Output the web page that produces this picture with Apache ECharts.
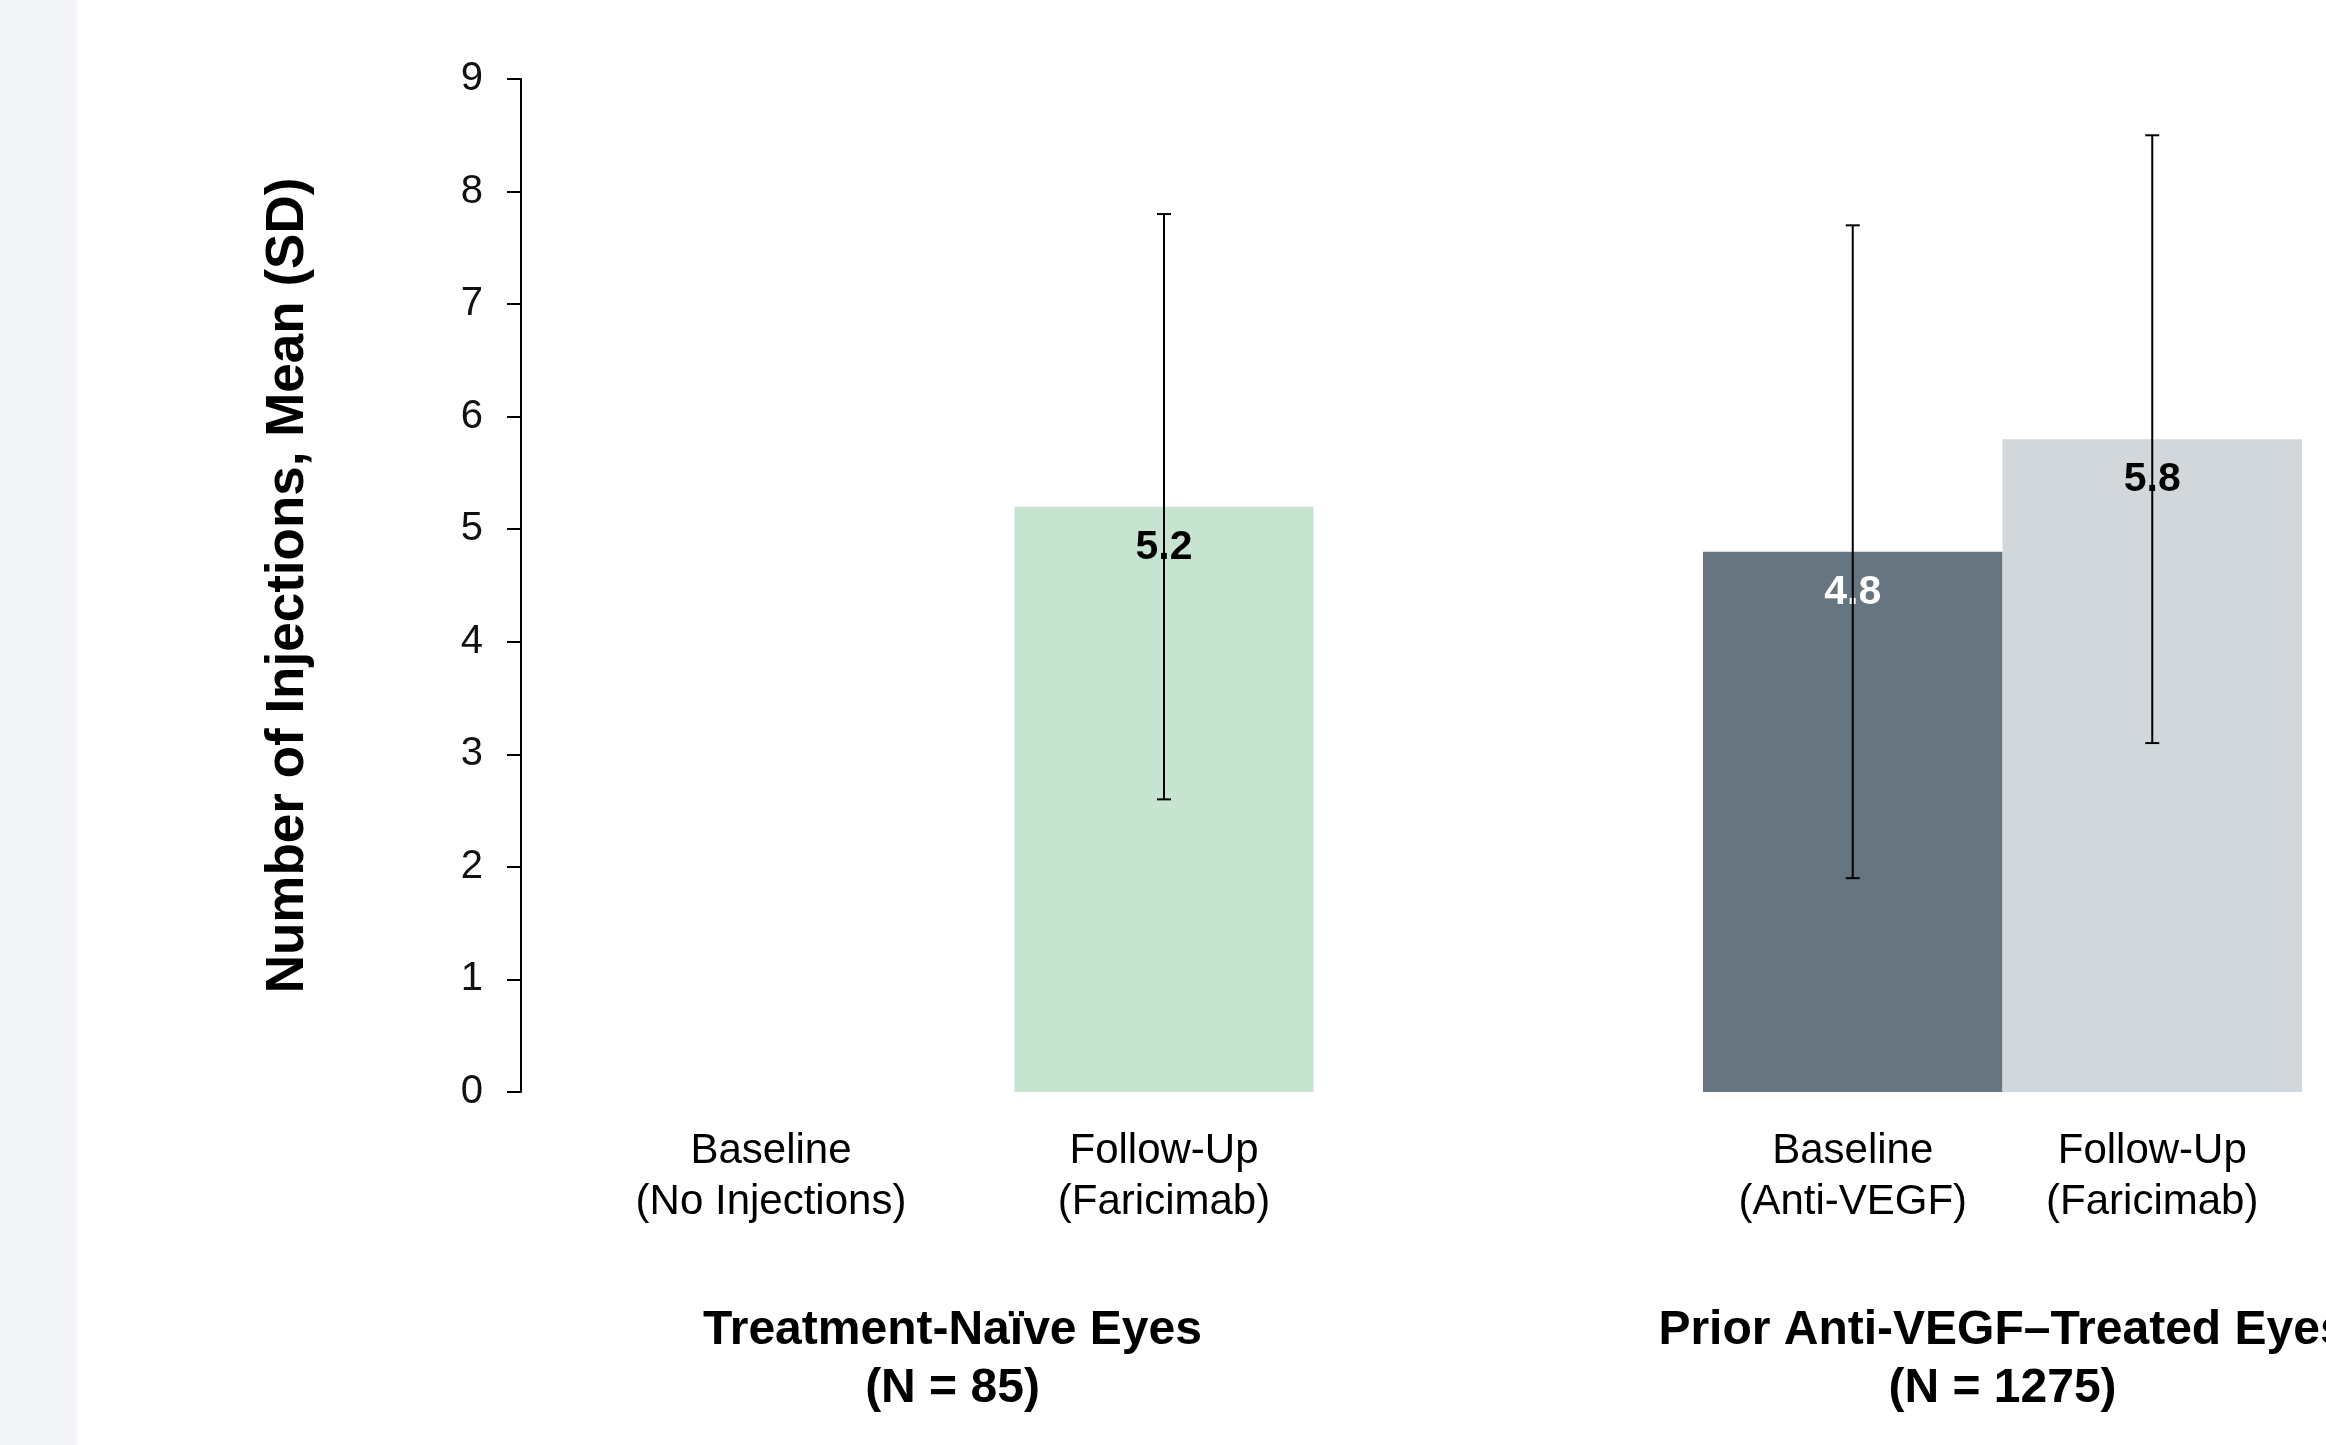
<!DOCTYPE html>
<html>
<head>
<meta charset="utf-8">
<script src="https://cdn.jsdelivr.net/npm/echarts@6/dist/echarts.min.js"></script>
<style>
    html, body { margin: 0; padding: 0; }
    body { background: linear-gradient(to right, #f3f5f9 77px, #ffffff 77px); }
    #chart { width: 2326px; height: 1445px; }
</style>
</head>
<body>
<div id="chart"></div>
<script>
// #region Data
const groupNames = ["Treatment-Naïve Eyes\n(N = 85)", "Prior Anti-VEGF–Treated Eyes\n(N = 1275)"];

const naiveCategories = ["Baseline\n(No Injections)", "Follow-Up\n(Faricimab)"];
const naiveMeans = [null, 5.2];
const naiveSD = [null, 2.6];

const priorCategories = ["Baseline\n(Anti-VEGF)", "Follow-Up\n(Faricimab)"];
const priorMeans = [4.8, 5.8];
const priorSD = [2.9, 2.7];

const yMin = 0;
const yMax = 9;
const yStep = 1;
const yTitle = "Number of Injections, Mean (SD)";
// #endregion

// #region Style
const FONT = "'Liberation Sans', Arial, Helvetica, sans-serif";
const naiveColors = ["#c6e4cf", "#c6e4cf"];
const naiveLabelColors = ["#000000", "#000000"];
const priorColors = ["#66757f", "#d2d7db"];
const priorLabelColors = ["#ffffff", "#000000"];

const GRID_TOP = 79;
const GRID_BOTTOM = 353;
// #endregion

// #region Helper
const barData = (means, colors, labelColors) => means.map((v, i) => ({
    value: v == null ? "-" : v,
    itemStyle: { color: colors[i] },
    label: { color: labelColors[i] }
}));

const errData = (means, sds) => means
    .map((v, i) => v == null ? null : [i, v - sds[i], v + sds[i]])
    .filter(d => d);

const renderErr = (params, api) => {
    const x = api.value(0);
    const lo = api.coord([x, api.value(1)]);
    const hi = api.coord([x, api.value(2)]);
    const cap = 7;
    const style = { stroke: "#000", lineWidth: 2 };
    return {
        type: "group",
        children: [
            { type: "line", shape: { x1: lo[0], y1: lo[1], x2: hi[0], y2: hi[1] }, style },
            { type: "line", shape: { x1: hi[0] - cap, y1: hi[1], x2: hi[0] + cap, y2: hi[1] }, style },
            { type: "line", shape: { x1: lo[0] - cap, y1: lo[1], x2: lo[0] + cap, y2: lo[1] }, style }
        ]
    };
};

const xAxisBase = (cats, name, pad) => ({
    type: "category",
    data: cats,
    axisLine: { show: false },
    axisTick: { show: false },
    axisLabel: {
        interval: 0, margin: 34,
        fontFamily: FONT, fontSize: 42, lineHeight: 51, color: "#000"
    },
    name: name,
    nameLocation: "middle",
    nameGap: 210,
    nameTextStyle: {
        fontFamily: FONT, fontSize: 48, fontWeight: "bold",
        lineHeight: 58, color: "#000", padding: pad
    }
});

const barLabel = {
    show: true,
    position: "insideTop",
    distance: 20,
    fontFamily: FONT,
    fontSize: 41,
    fontWeight: "bold",
    formatter: p => p.value.toFixed(1)
};
// #endregion

const chart = echarts.init(document.getElementById("chart"), null, { renderer: "canvas" });

const option = {
    animation: false,
    backgroundColor: "transparent",
    grid: [
        { left: 574.5, width: 786, top: GRID_TOP, bottom: GRID_BOTTOM, outerBoundsMode: "none" },
        { left: 1703, width: 599, top: GRID_TOP, bottom: GRID_BOTTOM, outerBoundsMode: "none" }
    ],
    xAxis: [
        { gridIndex: 0, ...xAxisBase(naiveCategories, groupNames[0], [0, 30, 0, 0]) },
        { gridIndex: 1, ...xAxisBase(priorCategories, groupNames[1], [0, 0, 0, 0]) }
    ],
    yAxis: [
        {
            gridIndex: 0,
            type: "value",
            min: yMin, max: yMax, interval: yStep,
            offset: 53.5,
            axisLine: { show: true, lineStyle: { color: "#000", width: 2 } },
            axisTick: { show: true, length: 14, lineStyle: { color: "#000", width: 2 } },
            splitLine: { show: false },
            axisLabel: { margin: 38, fontFamily: FONT, fontSize: 40, color: "#111" },
            name: yTitle,
            nameLocation: "middle",
            nameRotate: 90,
            nameGap: 206,
            nameTextStyle: { fontFamily: FONT, fontSize: 53, fontWeight: "bold", color: "#000" }
        },
        {
            gridIndex: 1,
            type: "value",
            min: yMin, max: yMax, interval: yStep,
            show: false
        }
    ],
    series: [
        {
            type: "bar",
            xAxisIndex: 0, yAxisIndex: 0,
            barWidth: 299,
            data: barData(naiveMeans, naiveColors, naiveLabelColors),
            label: barLabel,
            z: 2
        },
        {
            type: "bar",
            xAxisIndex: 1, yAxisIndex: 1,
            barWidth: "100%",
            data: barData(priorMeans, priorColors, priorLabelColors),
            label: barLabel,
            z: 2
        },
        {
            type: "custom",
            xAxisIndex: 0, yAxisIndex: 0,
            renderItem: renderErr,
            encode: { x: 0, y: [1, 2] },
            data: errData(naiveMeans, naiveSD),
            z: 10
        },
        {
            type: "custom",
            xAxisIndex: 1, yAxisIndex: 1,
            renderItem: renderErr,
            encode: { x: 0, y: [1, 2] },
            data: errData(priorMeans, priorSD),
            z: 10
        }
    ]
};

chart.setOption(option);
</script>
</body>
</html>
